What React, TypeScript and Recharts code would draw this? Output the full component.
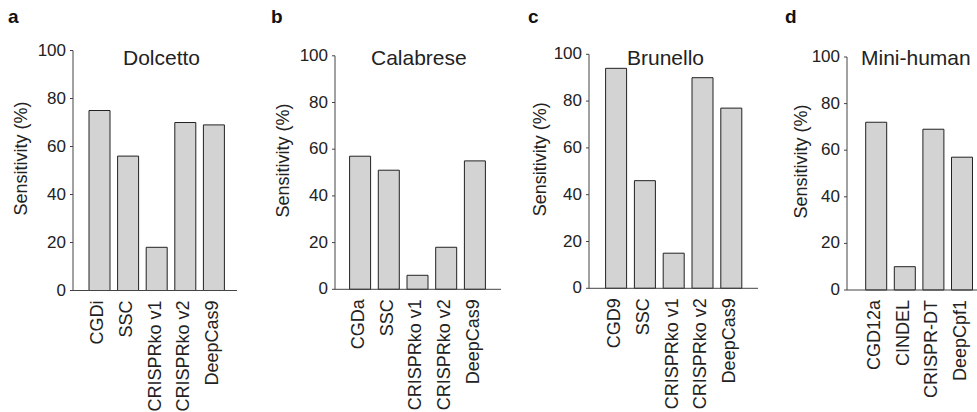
import { BarChart, Bar, XAxis, YAxis } from 'recharts';

// sensitivity per tool
const dolcettoTools = ['CGDi', 'SSC', 'CRISPRko v1', 'CRISPRko v2', 'DeepCas9'];
const dolcettoSensitivity = [75, 56, 18, 70, 69];

const calabreseTools = ['CGDa', 'SSC', 'CRISPRko v1', 'CRISPRko v2', 'DeepCas9'];
const calabreseSensitivity = [57, 51, 6, 18, 55];

const brunelloTools = ['CGD9', 'SSC', 'CRISPRko v1', 'CRISPRko v2', 'DeepCas9'];
const brunelloSensitivity = [94, 46, 15, 90, 77];

const miniHumanTools = ['CGD12a', 'CINDEL', 'CRISPR-DT', 'DeepCpf1'];
const miniHumanSensitivity = [72, 10, 69, 57];

const yTicks = [0, 20, 40, 60, 80, 100];

const FONT = '"Liberation Sans", Arial, Helvetica, sans-serif';
const INK = '#222';
const AXIS = '#444';
const Y_AXIS_W = 70;

const panels = [
  { letter: 'a', title: 'Dolcetto', tools: dolcettoTools, values: dolcettoSensitivity,
    axisX: 73, axisEnd: 237, top: 50.5, bottom: 290.5, padL: 12, padR: 9, labelGap: 52,
    letterX: 8, titleX: 123 },
  { letter: 'b', title: 'Calabrese', tools: calabreseTools, values: calabreseSensitivity,
    axisX: 335, axisEnd: 501, top: 55.8, bottom: 289.3, padL: 10.6, padR: 11.9, labelGap: 52,
    letterX: 271, titleX: 371 },
  { letter: 'c', title: 'Brunello', tools: brunelloTools, values: brunelloSensitivity,
    axisX: 589, axisEnd: 758, top: 54.3, bottom: 288.3, padL: 12.6, padR: 12.4, labelGap: 49,
    letterX: 528, titleX: 627 },
  { letter: 'd', title: 'Mini-human', tools: miniHumanTools, values: miniHumanSensitivity,
    axisX: 847, axisEnd: 977, top: 57, bottom: 290, padL: 14.7, padR: 0.9, labelGap: 46,
    letterX: 785, titleX: 861 },
];

const XTick = (props: any) => {
  const { x, y, payload } = props;
  const tx = x + 4;
  return (
    <text x={tx} y={y} transform={`rotate(-90, ${tx}, ${y})`} textAnchor="end"
      fontSize={18} fill={INK} fontFamily={FONT}>
      {payload.value}
    </text>
  );
};

function Panel({ p }: { p: (typeof panels)[number] }) {
  const data = p.tools.map((name, i) => ({ name, value: p.values[i] }));
  const width = Y_AXIS_W + (p.axisEnd - p.axisX);
  return (
    <div style={{ position: 'absolute', left: p.axisX - Y_AXIS_W, top: 0 }}>
      <BarChart width={width} height={412} data={data}
        margin={{ top: p.top, right: 0, bottom: 0, left: 0 }} barCategoryGap={0}>
        <XAxis dataKey="name" height={412 - p.bottom} tickLine={false} tickSize={0} tickMargin={10}
          stroke={AXIS} interval={0} padding={{ left: p.padL, right: p.padR }} tick={<XTick />} />
        <YAxis width={Y_AXIS_W} domain={[0, 100]} ticks={yTicks} tickSize={3} tickMargin={4}
          stroke={AXIS} tick={{ fontSize: 17, fill: INK, fontFamily: FONT, dy: -1 }}
          label={{
            content: (lp: any) => {
              const vb = lp.viewBox || {};
              const lx = vb.x + vb.width - p.labelGap + 6;
              const ly = vb.y + vb.height / 2 - 12;
              return (
                <text x={lx} y={ly} transform={`rotate(-90, ${lx}, ${ly})`} textAnchor="middle"
                  fontSize={18} fill={INK} fontFamily={FONT}>
                  Sensitivity (%)
                </text>
              );
            },
          }} />
        <Bar dataKey="value" fill="#d3d3d3" stroke={INK} strokeWidth={1} barSize={21}
          isAnimationActive={false} />
      </BarChart>
    </div>
  );
}

export default function App() {
  return (
    <div style={{ position: 'absolute', left: 0, top: 0, width: 977, height: 412, overflow: 'hidden', background: '#fff' }}>
      {panels.map((p) => <Panel key={p.letter} p={p} />)}
      <svg width={977} height={412} style={{ position: 'absolute', left: 0, top: 0, pointerEvents: 'none' }}>
        {panels.map((p) => (
          <g key={p.letter}>
            <text x={p.letterX} y={23} fontSize={19} fontWeight="bold" fill="#111" fontFamily={FONT}>{p.letter}</text>
            <text x={p.titleX} y={65} fontSize={21} fill={INK} fontFamily={FONT}>{p.title}</text>
          </g>
        ))}
      </svg>
    </div>
  );
}
